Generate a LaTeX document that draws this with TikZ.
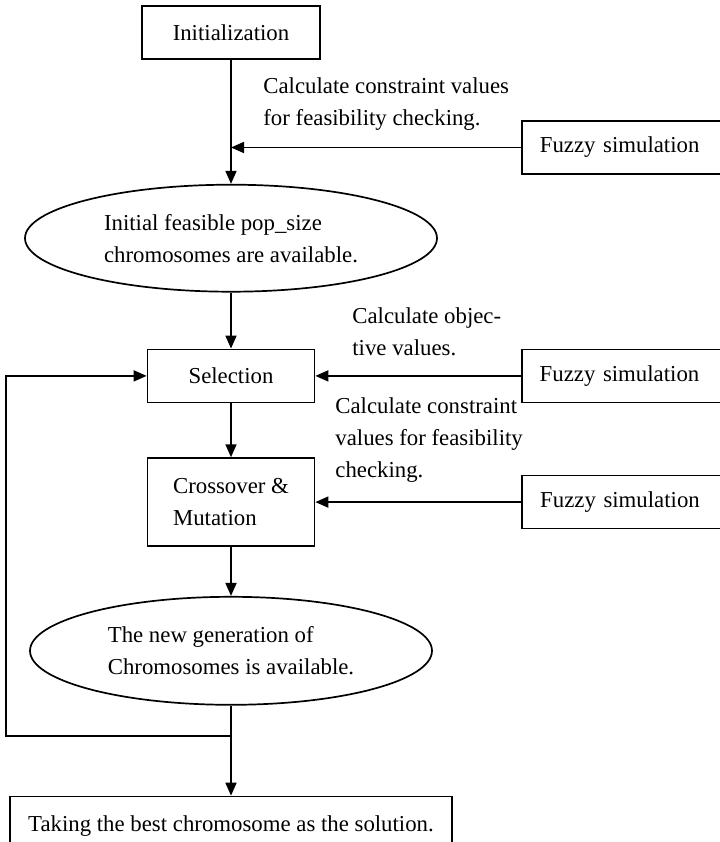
\documentclass[tikz,border=0pt]{standalone}
\usepackage{fontspec}
\setmainfont{Liberation Serif}
\usetikzlibrary{arrows.meta,positioning,shapes.geometric}
\newcommand{\gafont}{\fontsize{11.4}{16}\selectfont}
\tikzset{
  pbox/.style={rectangle,draw,line width=0.85pt,minimum width=#1,minimum height=26.5pt,
               inner sep=2pt,align=center,font=\gafont},
  pbox/.default=83.5pt,
  pell/.style={ellipse,draw,line width=0.85pt,minimum width=#1,minimum height=53.5pt,
               inner sep=0pt,align=left,font=\gafont},
  pell/.default=206pt,
  fbox/.style={rectangle,draw,line width=0.85pt,minimum height=26.5pt,text width=130pt,
               inner xsep=9pt,align=left,font=\gafont},
  note/.style={anchor=west,inner sep=0pt,align=left,font=\gafont},
  arr/.style={-{Triangle[length=6.5pt,width=5.5pt]},line width=0.85pt},
  line/.style={line width=0.85pt},
}
\begin{document}
\begin{tikzpicture}[x=0.5pt,y=-0.5pt]
  \useasboundingbox (0,0) rectangle (719,842);

  % main column
  \node[pbox=89pt] (init) at (231,32.5) {Initialization};
  \node[pell=206pt,below=62pt of init] (pop)
    {Initial feasible pop\_size\\chromosomes are available.};
  \node[pbox,below=28pt of pop] (sel) {Selection};
  \node[pbox,minimum height=44pt,align=left,below=27pt of sel] (cm)
    {Crossover \&\\Mutation};
  \node[pell=201pt,minimum height=54pt,below=24.5pt of cm] (gen)
    {The new generation of\\Chromosomes is available.};
  \node[pbox=221pt,minimum height=30pt,below=45pt of gen] (best)
    {Taking the best chromosome as the solution.};

  % fuzzy simulation boxes
  \node[fbox,anchor=west] (fz1) at (521,147.5) {Fuzzy simulation};
  \node[fbox,right=102.75pt of sel] (fz2) {Fuzzy simulation};
  \node[fbox,right=103pt of cm] (fz3) {Fuzzy simulation};

  % notes
  \node[note] (n1) at (263,104) {Calculate constraint values\\for feasibility checking.};
  \node[note] (n2) at (352,332) {Calculate objec-\\tive values.};
  \node[note] (n3) at (335,440) {Calculate constraint\\values for feasibility\\checking.};

  \coordinate (j1) at (init.south |- fz1.west);
  \coordinate (j2) at (231,736);
  \coordinate (lp) at (6,736);

  \draw[arr] (init) -- (pop);
  \draw[arr] (fz1) -- (j1);
  \draw[arr] (pop) -- (sel);
  \draw[arr] (fz2) -- (sel);
  \draw[arr] (sel) -- (cm);
  \draw[arr] (fz3) -- (cm);
  \draw[arr] (cm) -- (gen);
  \draw[line] (gen) -- (j2);
  \draw[arr] (j2) -- (best);
  \draw[arr] (j2) -- (lp) |- (sel.west);
\end{tikzpicture}
\end{document}
